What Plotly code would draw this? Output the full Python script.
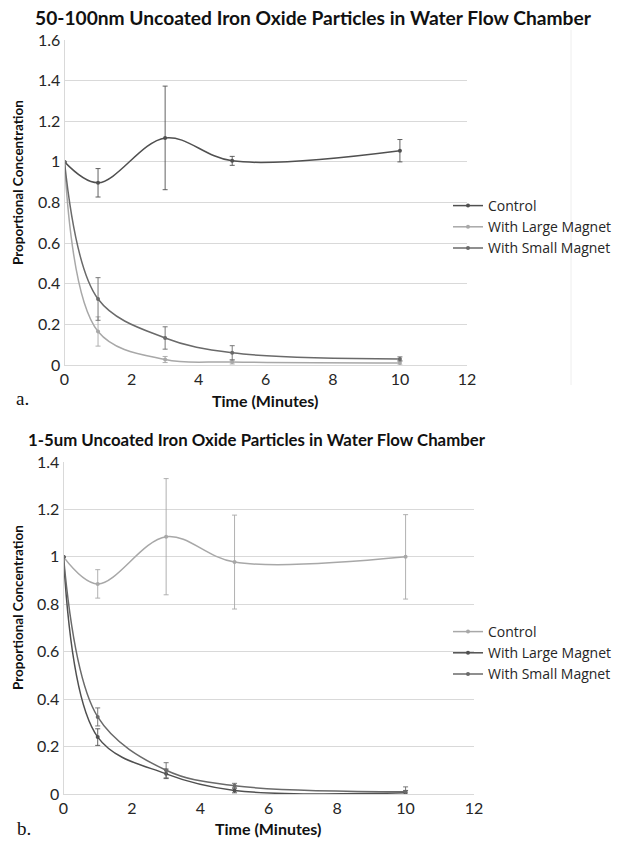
import plotly.graph_objects as go

# ---------------- data ----------------
time_min = [0, 1, 3, 5, 10]

# Panel a: 50-100nm
a_control = [1.0, 0.897, 1.118, 1.005, 1.055]
a_control_err = [0, 0.07, 0.255, 0.022, 0.055]
a_large = [1.0, 0.165, 0.027, 0.015, 0.01]
a_large_err = [0, 0.072, 0.015, 0.01, 0.01]
a_small = [1.0, 0.325, 0.133, 0.06, 0.03]
a_small_err = [0, 0.105, 0.055, 0.035, 0.01]

# Panel b: 1-5um
b_control = [1.0, 0.886, 1.085, 0.978, 1.0]
b_control_err = [0, 0.06, 0.245, 0.198, 0.178]
b_large = [1.0, 0.24, 0.085, 0.015, 0.005]
b_large_err = [0, 0.035, 0.02, 0.01, 0.01]
b_small = [1.0, 0.325, 0.1, 0.035, 0.01]
b_small_err = [0, 0.038, 0.032, 0.01, 0.02]

series_names = ["Control", "With Large Magnet", "With Small Magnet"]
x_ticks = [0, 2, 4, 6, 8, 10, 12]
a_y_ticks = [0, 0.2, 0.4, 0.6, 0.8, 1, 1.2, 1.4, 1.6]
b_y_ticks = [0, 0.2, 0.4, 0.6, 0.8, 1, 1.2, 1.4]
title_a = "50-100nm Uncoated Iron Oxide Particles in Water Flow Chamber"
title_b = "1-5um Uncoated Iron Oxide Particles in Water Flow Chamber"

# ---------------- styling ----------------
W, H = 634, 842
FONT = "Lato"
TXT = "#262626"
DARK = "#505050"
MID = "#6a6a6a"
LIGHT = "#a8a8a8"
GRID = "#d9d9d9"

fig = go.Figure()

def add_series(y, err, name, color, xa, ya, legend):
    fig.add_trace(go.Scatter(
        x=time_min, y=y, name=name, mode="lines+markers",
        line=dict(color=color, width=1.5, shape="spline", smoothing=1.0),
        marker=dict(color=color, size=4),
        error_y=dict(type="data", array=err, color=color, thickness=0.9, width=2.5),
        xaxis=xa, yaxis=ya, legend=legend,
    ))

a_colors = [DARK, LIGHT, MID]
b_colors = [LIGHT, DARK, MID]
for name, y, e, c in zip(series_names, [a_control, a_large, a_small],
                         [a_control_err, a_large_err, a_small_err], a_colors):
    add_series(y, e, name, c, "x", "y", "legend")
for name, y, e, c in zip(series_names, [b_control, b_large, b_small],
                         [b_control_err, b_large_err, b_small_err], b_colors):
    add_series(y, e, name, c, "x2", "y2", "legend2")

def px_x(p):
    return p / W

def px_y(p):
    return 1 - p / H

TICKFONT = dict(family=FONT, size=16, color=TXT)
axis_common = dict(
    showgrid=False, zeroline=False, showline=True, linecolor=GRID, linewidth=1,
    ticks="", tickfont=TICKFONT, fixedrange=True, automargin=False,
)
yaxis_common = dict(
    showgrid=True, gridcolor=GRID, gridwidth=1, zeroline=False, showline=True,
    linecolor=GRID, linewidth=1, ticks="", tickfont=TICKFONT, fixedrange=True,
    automargin=False,
)

LEGFONT = dict(family="Open Sans", size=14, color=TXT)
fig.update_layout(
    width=W, height=H, autosize=False,
    margin=dict(l=0, r=0, t=0, b=0),
    paper_bgcolor="white", plot_bgcolor="white",
    font=dict(family=FONT, color=TXT),
    xaxis=dict(domain=[px_x(64.5), px_x(467)], range=[0, 12], tickvals=x_ticks,
               anchor="y", **axis_common),
    yaxis=dict(domain=[px_y(365), px_y(40)], range=[0, 1.6], tickvals=a_y_ticks,
               ticktext=[f"{v:g}" for v in a_y_ticks], anchor="x", **yaxis_common),
    xaxis2=dict(domain=[px_x(63.5), px_x(474)], range=[0, 12], tickvals=x_ticks,
                anchor="y2", **axis_common),
    yaxis2=dict(domain=[px_y(794), px_y(462)], range=[0, 1.4], tickvals=b_y_ticks,
                ticktext=[f"{v:g}" for v in b_y_ticks], anchor="x2", **yaxis_common),
    legend=dict(x=px_x(448), y=px_y(190), xanchor="left", yanchor="top",
                bgcolor="rgba(0,0,0,0)", font=LEGFONT, itemwidth=30, tracegroupgap=0),
    legend2=dict(x=px_x(448), y=px_y(616), xanchor="left", yanchor="top",
                 bgcolor="rgba(0,0,0,0)", font=LEGFONT, itemwidth=30, tracegroupgap=0),
    showlegend=True,
)

ann = []
ann.append(dict(text=f"<b>{title_a}</b>", x=px_x(313), y=px_y(18), xref="paper", yref="paper",
                showarrow=False, xanchor="center", yanchor="middle",
                font=dict(family=FONT, size=19.2, color="#111")))
ann.append(dict(text=f"<b>{title_b}</b>", x=px_x(257), y=px_y(440), xref="paper", yref="paper",
                showarrow=False, xanchor="center", yanchor="middle",
                font=dict(family=FONT, size=16.8, color="#111")))
for yc in (183, 608):
    ann.append(dict(text="<b>Proportional Concentration</b>", x=px_x(18), y=px_y(yc),
                    xref="paper", yref="paper", showarrow=False, textangle=-90,
                    xanchor="center", yanchor="middle",
                    font=dict(family=FONT, size=13.5, color="#111")))
ann.append(dict(text="<b>Time (Minutes)</b>", x=px_x(265), y=px_y(400), xref="paper", yref="paper",
                showarrow=False, xanchor="center", yanchor="middle",
                font=dict(family=FONT, size=16, color="#111")))
ann.append(dict(text="<b>Time (Minutes)</b>", x=px_x(268), y=px_y(828), xref="paper", yref="paper",
                showarrow=False, xanchor="center", yanchor="middle",
                font=dict(family=FONT, size=16, color="#111")))
ann.append(dict(text="a.", x=px_x(22), y=px_y(398), xref="paper", yref="paper",
                showarrow=False, xanchor="center", yanchor="middle",
                font=dict(family="Liberation Serif", size=19, color="#111")))
ann.append(dict(text="b.", x=px_x(24), y=px_y(828), xref="paper", yref="paper",
                showarrow=False, xanchor="center", yanchor="middle",
                font=dict(family="Liberation Serif", size=19, color="#111")))
fig.update_layout(annotations=ann)

# faint chart border line at right of panel a
fig.add_shape(type="line", xref="paper", yref="paper",
              x0=px_x(571), x1=px_x(571), y0=px_y(30), y1=px_y(385),
              line=dict(color="#eeeeee", width=1))

fig.write_html("out.html",
               config={"displayModeBar": False},
               post_script="document.body.style.margin='0';document.body.style.overflow='hidden';")
